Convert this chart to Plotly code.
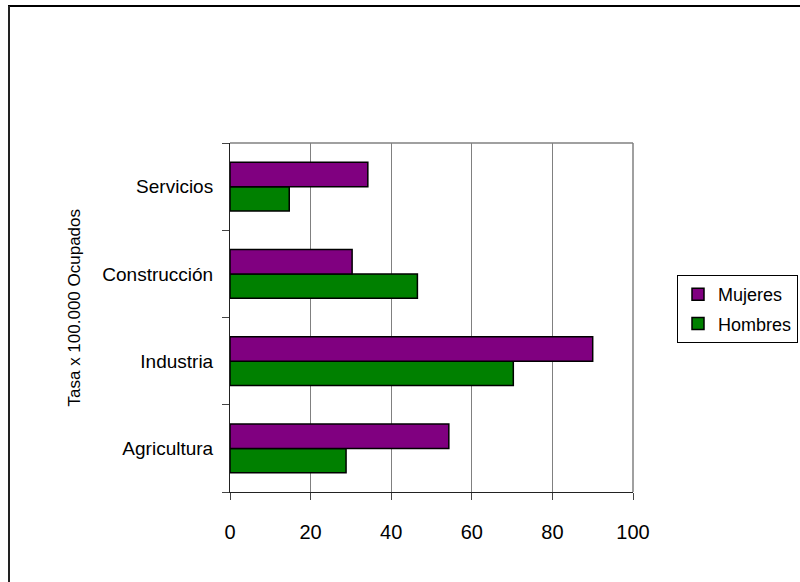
import plotly.graph_objects as go

sectores = ["Agricultura", "Industria", "Construcción", "Servicios"]
mujeres = [54.3, 90.0, 30.3, 34.2]
hombres = [28.8, 70.3, 46.5, 14.7]
x_ticks = [0, 20, 40, 60, 80, 100]

W, H = 800, 582
L, R, T, B = 230, 633, 143, 492  # plot area in pixels


def px(x):
    return (x - L) / (R - L)


def py(y):
    return (B - y) / (B - T)


FONT = "Liberation Sans, Arial, sans-serif"

fig = go.Figure()
fig.add_trace(go.Bar(y=sectores, x=hombres, orientation="h", name="Hombres",
                     legendgroup="h", legendrank=2,
                     marker=dict(color="#008000", line=dict(color="black", width=1.5))))
fig.add_trace(go.Bar(y=sectores, x=mujeres, orientation="h", name="Mujeres",
                     legendgroup="m", legendrank=1,
                     marker=dict(color="#800080", line=dict(color="black", width=1.5))))

fig.update_layout(
    width=W, height=H,
    margin=dict(l=L, r=W - R, t=T, b=H - B, autoexpand=False),
    paper_bgcolor="white", plot_bgcolor="white",
    barmode="group", bargap=0.44, bargroupgap=0,
    font=dict(family=FONT, size=19, color="black"),
    showlegend=True,
    legend=dict(x=px(677), y=py(275), xanchor="left", yanchor="top",
                traceorder="grouped", tracegroupgap=3,
                bordercolor="black", borderwidth=1,
                bgcolor="white", font=dict(size=18),
                itemwidth=30),
)

fig.update_xaxes(range=[0, 100], tickvals=x_ticks, showgrid=True, gridcolor="#808080",
                 gridwidth=1, zeroline=False, showline=True, linecolor="#222",
                 linewidth=1, ticks="outside", ticklen=7, tickcolor="#444",
                 ticklabelstandoff=15, tickfont=dict(size=20), fixedrange=True)
fig.update_yaxes(categoryorder="array", categoryarray=sectores, showgrid=False,
                 showline=True, linecolor="#222", linewidth=1, ticks="outside",
                 tickson="boundaries", ticklen=7, tickcolor="#444",
                 ticklabelstandoff=12, fixedrange=True)

# gray frame on top and right of the plot area
fig.add_shape(type="line", xref="paper", yref="paper", x0=0, x1=1, y0=1, y1=1,
              line=dict(color="#808080", width=1.5))
fig.add_shape(type="line", xref="paper", yref="paper", x0=1, x1=1, y0=0, y1=1,
              line=dict(color="#808080", width=1.5))

# outer chart border (only top and left visible)
fig.add_shape(type="line", xref="paper", yref="paper", x0=px(8), x1=px(800),
              y0=py(6), y1=py(6), line=dict(color="black", width=2))
fig.add_shape(type="line", xref="paper", yref="paper", x0=px(9), x1=px(9),
              y0=py(6), y1=py(582), line=dict(color="#222", width=2))

fig.add_annotation(text="Tasa x 100.000 Ocupados", xref="paper", yref="paper",
                   x=px(62), y=py(308), textangle=-90, showarrow=False,
                   font=dict(size=17))

fig.write_html("out.html", config={"displayModeBar": False},
               post_script="document.body.style.margin='0px';")
